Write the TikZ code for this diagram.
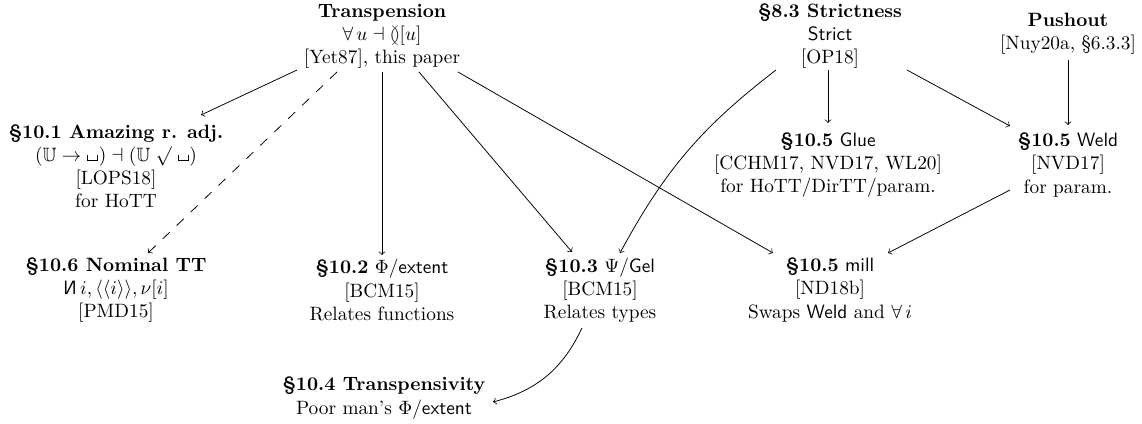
\documentclass[tikz,border=0pt]{standalone}
\usepackage{amssymb}
\usetikzlibrary{calc}
\tikzset{
  lbl/.style={align=center, inner sep=0pt},
  arr/.style={->, line width=0.4pt},
  dasharr/.style={arr, dash pattern=on 5pt off 5pt},
}
\newcommand{\vsp}{\mbox{\kern0.3pt\vrule height 3.2pt depth 0pt width 0.4pt\vrule height 0.4pt depth 0pt width 5pt\vrule height 3.2pt depth 0pt width 0.4pt\kern0.3pt}}
\newcommand{\nomN}{\mbox{\reflectbox{\textsf{N}}}}
\begin{document}
\begin{tikzpicture}[x=0.5181pt,y=-0.5181pt]
\useasboundingbox (0,0) rectangle (1142,424);
% nodes
\node[lbl] (trans) at (382,36) {\textbf{Transpension}\\ $\forall\,u\dashv\mathord{\between}[u]$\\{}[Yet87], this paper};
\node[lbl] (strict) at (830,36) {\textbf{§8.3 Strictness}\\ \textsf{Strict}\\{}[OP18]};
\node[lbl] (push) at (1068,34) {\textbf{Pushout}\\{}[Nuy20a, §6.3.3]};
\node[lbl] (amaz) at (116,166) {\textbf{§10.1 Amazing r. adj.}\\ $(\mathbb{U}\to\vsp)\dashv(\mathbb{U}\mathrel{\surd}\vsp)$\\{}[LOPS18]\\ for HoTT};
\node[lbl] (glue) at (828,165) {\textbf{§10.5} \textsf{Glue}\\{}[CCHM17, NVD17, WL20]\\ for HoTT/DirTT/param.};
\node[lbl] (weld) at (1068,165) {\textbf{§10.5} \textsf{Weld}\\{}[NVD17]\\ for param.};
\node[lbl] (nom) at (116,290) {\textbf{§10.6 Nominal TT}\\ $\nomN\,i, \langle\langle i\rangle\rangle, \nu[i]$\\{}[PMD15]};
\node[lbl] (phi) at (382,290) {\textbf{§10.2} $\Phi/$\textsf{extent}\\{}[BCM15]\\ Relates functions};
\node[lbl] (psi) at (600,290) {\textbf{§10.3} $\Psi/$\textsf{Gel}\\{}[BCM15]\\ Relates types};
\node[lbl] (mill) at (830,290) {\textbf{§10.5} \textsf{mill}\\{}[ND18b]\\ Swaps \textsf{Weld} and $\forall\,i$};
\node[lbl] (tsv) at (384,398) {\textbf{§10.4 Transpensivity}\\ Poor man’s $\Phi/$\textsf{extent}};
% connectors
\draw[arr] ($(trans)+(-85,34)$) -- ($(amaz)+(85,-51)$);
\draw[dasharr] ($(trans)+(-45,36)$) -- ($(nom)+(32,-37)$);
\draw[arr] ($(trans)+(0,36)$) -- ($(phi)+(0,-35)$);
\draw[arr] ($(trans)+(37,36)$) -- ($(psi)+(-28,-38)$);
\draw[arr] ($(trans)+(76,36)$) -- ($(mill)+(-57,-37)$);
\draw[arr] ($(strict)+(-54,34)$) to[bend right=12] ($(psi)+(20,-37)$);
\draw[arr] ($(strict)+(-2,34)$) -- ($(glue)+(0,-42)$);
\draw[arr] ($(strict)+(77,34)$) -- ($(weld)+(-58,-39)$);
\draw[arr] ($(push)+(0,26)$) -- ($(weld)+(0,-40)$);
\draw[arr] ($(weld)+(-58,25)$) -- ($(mill)+(58,-37)$);
\draw[arr] ($(psi)+(-18,38)$) to[bend left=25] ($(tsv)+(109,4)$);
\end{tikzpicture}
\end{document}
